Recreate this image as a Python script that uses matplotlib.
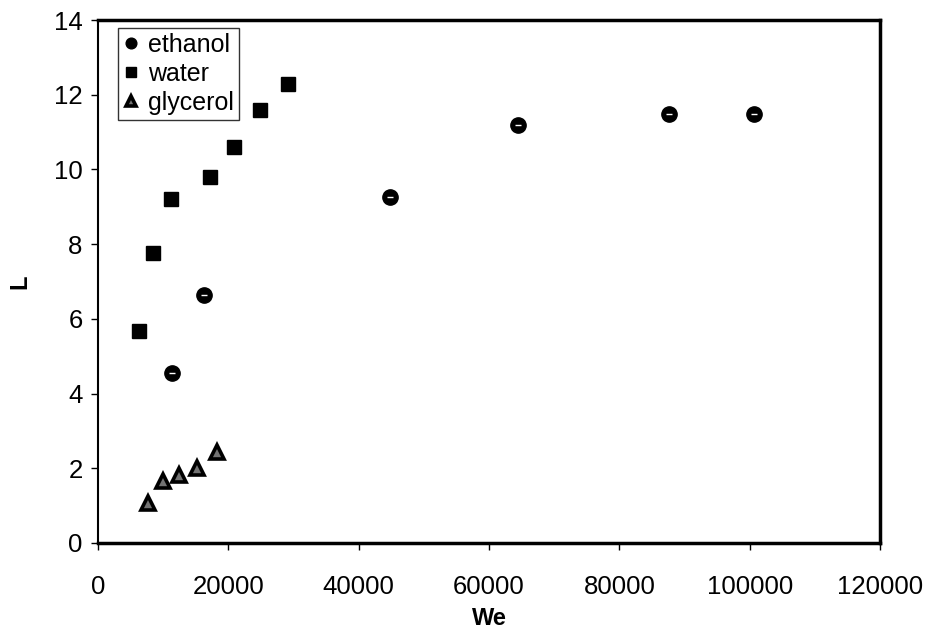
import matplotlib
matplotlib.use("Agg")
import matplotlib.pyplot as plt

# Weber number vs. L for three liquids
ethanol_we = [11360, 16270, 44820, 64470, 87640, 100690]
ethanol_l = [4.55, 6.65, 9.27, 11.2, 11.48, 11.48]

water_we = [6290, 8440, 11200, 17190, 20870, 24870, 29160]
water_l = [5.68, 7.75, 9.2, 9.8, 10.6, 11.58, 12.3]

glycerol_we = [7670, 9980, 12430, 15200, 18270]
glycerol_l = [1.08, 1.66, 1.83, 2.0, 2.44]

x_ticks = [0, 20000, 40000, 60000, 80000, 100000, 120000]
y_ticks = [0, 2, 4, 6, 8, 10, 12, 14]

plt.rcParams['font.family'] = ['Liberation Sans', 'DejaVu Sans']

fig = plt.figure(figsize=(9.35, 6.37), dpi=100)
ax = fig.add_axes([0.1048, 0.1476, 0.8364, 0.8210])

ax.plot(ethanol_we, ethanol_l, linestyle='none', marker='o', markersize=11,
        markerfacecolor='black', markeredgecolor='black', label='ethanol', zorder=3)
ax.plot(ethanol_we, ethanol_l, linestyle='none', marker='_', markersize=4,
        markeredgewidth=1.0, color='white', zorder=4)

ax.plot(water_we, water_l, linestyle='none', marker='s', markersize=10,
        markerfacecolor='black', markeredgecolor='black', label='water', zorder=3)

ax.plot(glycerol_we, glycerol_l, linestyle='none', marker='^', markersize=10,
        markerfacecolor='0.45', markeredgecolor='black', markeredgewidth=2.6,
        label='glycerol', zorder=3)

ax.set_xlim(0, 120000)
ax.set_ylim(0, 14)
ax.set_xticks(x_ticks)
ax.set_yticks(y_ticks)
ax.tick_params(axis='both', direction='out', length=5, width=1, labelsize=18.5,
               color='black')
ax.tick_params(axis='x', pad=18)
ax.tick_params(axis='y', pad=6)

for side in ['top', 'right', 'bottom']:
    ax.spines[side].set_linewidth(2.5)
    ax.spines[side].set_color('black')
ax.spines['left'].set_linewidth(1.5)
ax.spines['left'].set_color('black')

ax.set_xlabel('We', fontsize=17, fontweight='bold', labelpad=6)
ax.set_ylabel('L', fontsize=17, fontweight='bold', labelpad=16)

leg = ax.legend(loc='upper left', bbox_to_anchor=(0.022, 0.99), fontsize=18,
                frameon=True, fancybox=False, borderpad=0.2, labelspacing=0.2,
                handlelength=0.7, handletextpad=0.3, borderaxespad=0.1,
                markerscale=0.7)
leg.get_frame().set_edgecolor('black')
leg.get_frame().set_linewidth(1.0)

fig.savefig('out.png', dpi=100)
